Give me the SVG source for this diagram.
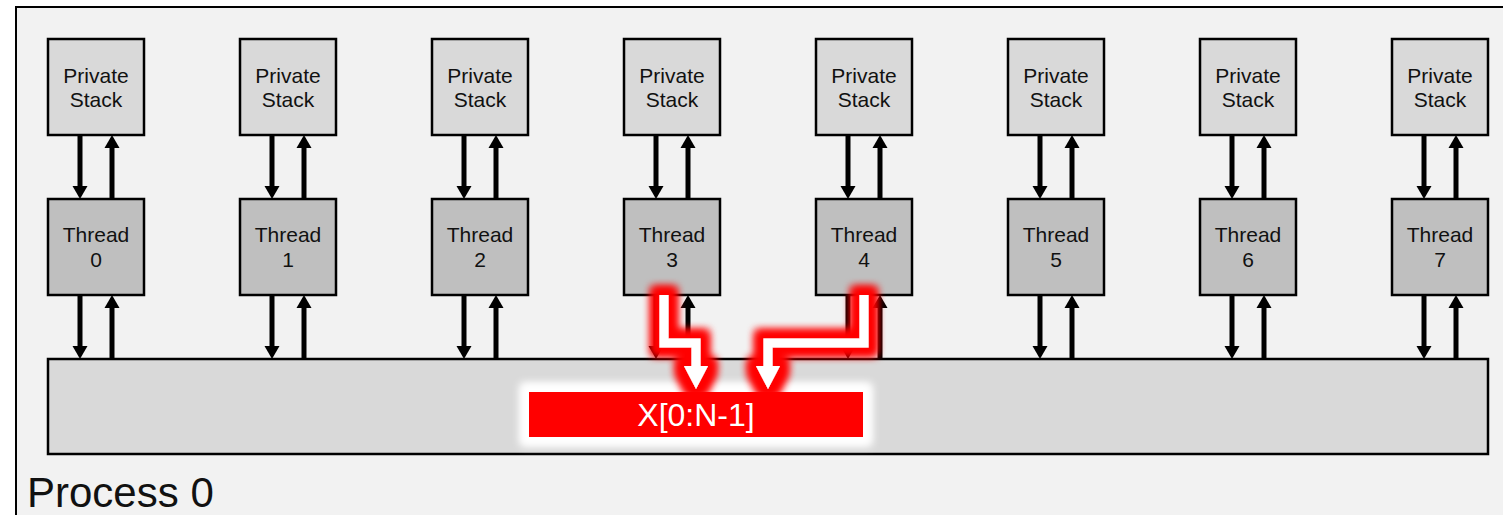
<svg xmlns="http://www.w3.org/2000/svg" width="1503" height="515" viewBox="0 0 1503 515">
<style>
.frame{fill:#f2f2f2;stroke:#000;stroke-width:2}
.stack{fill:#d9d9d9;stroke:#000;stroke-width:2.5}
.thread{fill:#bfbfbf;stroke:#000;stroke-width:2.5}
.mem{fill:#d9d9d9;stroke:#000;stroke-width:2.5}
.lbl{font-family:"Liberation Sans",Arial,sans-serif;font-size:21px;fill:#111;text-anchor:middle}
.conn{stroke:#000;stroke-width:5;fill:none;marker-end:url(#ah)}
.wa{stroke:#fff;stroke-width:9;fill:none;stroke-linejoin:miter}
</style>
<defs>
<marker id="ah" markerUnits="userSpaceOnUse" markerWidth="14" markerHeight="16" viewBox="0 0 14 16" refX="3" refY="8" orient="auto">
<path d="M0,0.5 L13,8 L0,15.5 z" fill="#000"/>
</marker>
<filter id="redglow" x="-30%" y="-30%" width="160%" height="160%">
<feMorphology in="SourceAlpha" operator="dilate" radius="8" result="d"/>
<feGaussianBlur in="d" stdDeviation="4" result="b"/>
<feFlood flood-color="#ff0000"/>
<feComposite in2="b" operator="in" result="g"/>
<feMerge><feMergeNode in="g"/><feMergeNode in="g"/><feMergeNode in="SourceGraphic"/></feMerge>
</filter>
<filter id="whiteglow" x="-20%" y="-60%" width="140%" height="220%">
<feMorphology in="SourceAlpha" operator="dilate" radius="8" result="d"/>
<feGaussianBlur in="d" stdDeviation="4" result="b"/>
<feFlood flood-color="#ffffff"/>
<feComposite in2="b" operator="in" result="g"/>
<feMerge><feMergeNode in="g"/><feMergeNode in="g"/><feMergeNode in="SourceGraphic"/></feMerge>
</filter>
</defs>
<rect class="frame" x="16" y="7" width="1500" height="520"/>
<text x="27" y="507" font-family="'Liberation Sans',Arial,sans-serif" font-size="42" fill="#111">Process 0</text>

<g id="memory"><rect class="mem" x="48" y="359" width="1440" height="95"/></g>

<g id="stack0"><rect class="stack" x="48" y="39" width="96" height="96"/><text class="lbl" x="96" y="83">Private</text><text class="lbl" x="96" y="107">Stack</text></g>
<g id="stack1"><rect class="stack" x="240" y="39" width="96" height="96"/><text class="lbl" x="288" y="83">Private</text><text class="lbl" x="288" y="107">Stack</text></g>
<g id="stack2"><rect class="stack" x="432" y="39" width="96" height="96"/><text class="lbl" x="480" y="83">Private</text><text class="lbl" x="480" y="107">Stack</text></g>
<g id="stack3"><rect class="stack" x="624" y="39" width="96" height="96"/><text class="lbl" x="672" y="83">Private</text><text class="lbl" x="672" y="107">Stack</text></g>
<g id="stack4"><rect class="stack" x="816" y="39" width="96" height="96"/><text class="lbl" x="864" y="83">Private</text><text class="lbl" x="864" y="107">Stack</text></g>
<g id="stack5"><rect class="stack" x="1008" y="39" width="96" height="96"/><text class="lbl" x="1056" y="83">Private</text><text class="lbl" x="1056" y="107">Stack</text></g>
<g id="stack6"><rect class="stack" x="1200" y="39" width="96" height="96"/><text class="lbl" x="1248" y="83">Private</text><text class="lbl" x="1248" y="107">Stack</text></g>
<g id="stack7"><rect class="stack" x="1392" y="39" width="96" height="96"/><text class="lbl" x="1440" y="83">Private</text><text class="lbl" x="1440" y="107">Stack</text></g>

<g id="thread0"><rect class="thread" x="48" y="199" width="96" height="96"/><text class="lbl" x="96" y="242">Thread</text><text class="lbl" x="96" y="267">0</text></g>
<g id="thread1"><rect class="thread" x="240" y="199" width="96" height="96"/><text class="lbl" x="288" y="242">Thread</text><text class="lbl" x="288" y="267">1</text></g>
<g id="thread2"><rect class="thread" x="432" y="199" width="96" height="96"/><text class="lbl" x="480" y="242">Thread</text><text class="lbl" x="480" y="267">2</text></g>
<g id="thread3"><rect class="thread" x="624" y="199" width="96" height="96"/><text class="lbl" x="672" y="242">Thread</text><text class="lbl" x="672" y="267">3</text></g>
<g id="thread4"><rect class="thread" x="816" y="199" width="96" height="96"/><text class="lbl" x="864" y="242">Thread</text><text class="lbl" x="864" y="267">4</text></g>
<g id="thread5"><rect class="thread" x="1008" y="199" width="96" height="96"/><text class="lbl" x="1056" y="242">Thread</text><text class="lbl" x="1056" y="267">5</text></g>
<g id="thread6"><rect class="thread" x="1200" y="199" width="96" height="96"/><text class="lbl" x="1248" y="242">Thread</text><text class="lbl" x="1248" y="267">6</text></g>
<g id="thread7"><rect class="thread" x="1392" y="199" width="96" height="96"/><text class="lbl" x="1440" y="242">Thread</text><text class="lbl" x="1440" y="267">7</text></g>

<g id="connectors">
<path class="conn" d="M80,136 V189"/><path class="conn" d="M112,198 V145"/><path class="conn" d="M80,296 V349"/><path class="conn" d="M112,358 V305"/>
<path class="conn" d="M272,136 V189"/><path class="conn" d="M304,198 V145"/><path class="conn" d="M272,296 V349"/><path class="conn" d="M304,358 V305"/>
<path class="conn" d="M464,136 V189"/><path class="conn" d="M496,198 V145"/><path class="conn" d="M464,296 V349"/><path class="conn" d="M496,358 V305"/>
<path class="conn" d="M656,136 V189"/><path class="conn" d="M688,198 V145"/><path class="conn" d="M656,296 V349"/><path class="conn" d="M688,358 V305"/>
<path class="conn" d="M848,136 V189"/><path class="conn" d="M880,198 V145"/><path class="conn" d="M848,296 V349"/><path class="conn" d="M880,358 V305"/>
<path class="conn" d="M1040,136 V189"/><path class="conn" d="M1072,198 V145"/><path class="conn" d="M1040,296 V349"/><path class="conn" d="M1072,358 V305"/>
<path class="conn" d="M1232,136 V189"/><path class="conn" d="M1264,198 V145"/><path class="conn" d="M1232,296 V349"/><path class="conn" d="M1264,358 V305"/>
<path class="conn" d="M1424,136 V189"/><path class="conn" d="M1456,198 V145"/><path class="conn" d="M1424,296 V349"/><path class="conn" d="M1456,358 V305"/>
</g>

<g id="array">
<rect x="529" y="392" width="334" height="45" fill="#ff0000" filter="url(#whiteglow)"/>
<text x="696" y="426" font-family="'Liberation Sans',Arial,sans-serif" font-size="32" fill="#fff" text-anchor="middle">X[0:N-1]</text>
</g>

<g id="access-arrows" filter="url(#redglow)">
<path class="wa" d="M664,295 V343 H696 V368"/>
<path d="M684,366 L708,366 L696,389 z" fill="#fff"/>
<path class="wa" d="M864,295 V343 H768 V368"/>
<path d="M756,366 L780,366 L768,389 z" fill="#fff"/>
</g>
</svg>
